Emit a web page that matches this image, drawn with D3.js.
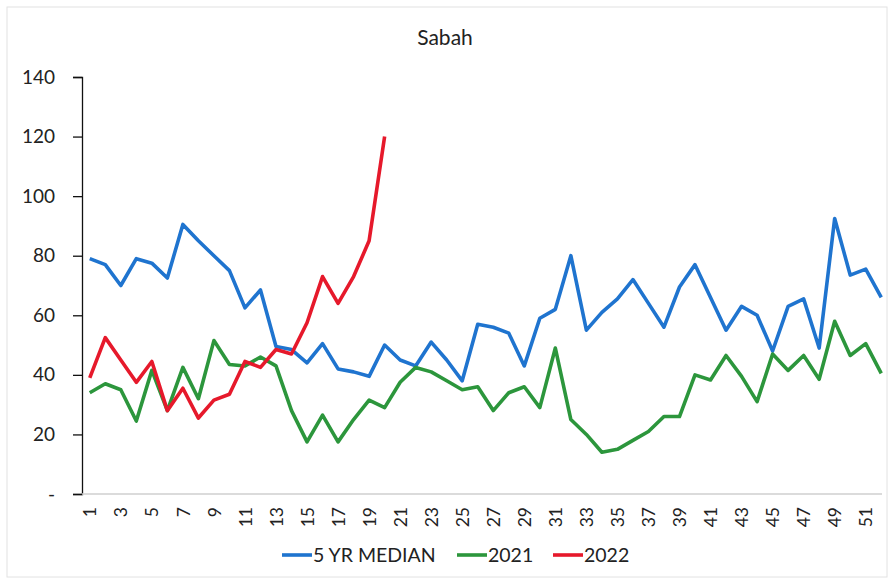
<!DOCTYPE html>
<html>
<head>
<meta charset="utf-8">
<script src="https://cdn.jsdelivr.net/npm/d3@7"></script>
<style>
  body { margin: 0; background: #fff; }
  text { font-family: Lato, "Open Sans", sans-serif; fill: #222; }
</style>
</head>
<body>
<div id="chart"></div>
<script>
const weeks = d3.range(1, 53);

const median5yr = [79, 77, 70, 79, 77.5, 72.5, 90.5, 85, 80, 75, 62.5, 68.5, 49.5, 48.5, 44,
  50.5, 42, 41, 39.5, 50, 45, 43, 51, 45, 38, 57, 56, 54, 43, 59, 62, 80, 55, 61, 65.5,
  72, 64, 56, 69.5, 77, 66, 55, 63, 60, 48, 63, 65.5, 49, 92.5, 73.5, 75.5, 66];

const y2021 = [34, 37, 35, 24.5, 41.5, 28, 42.5, 32, 51.5, 43.5, 43, 46, 43, 28, 17.5,
  26.5, 17.5, 25, 31.5, 29, 37.5, 42.5, 41, 38, 35, 36, 28, 34, 36, 29, 49, 25, 20, 14,
  15, 18, 21, 26, 26, 40, 38.3, 46.5, 39.5, 31, 47, 41.5, 46.5, 38.5, 58, 46.5, 50.5, 40.5];

const y2022 = [39, 52.5, 45, 37.5, 44.5, 28, 35.5, 25.5, 31.5, 33.5, 44.5, 42.5, 48.5, 47,
  57.5, 73, 64, 73, 85, 120];

const yTicks = [0, 20, 40, 60, 80, 100, 120, 140];

const series = [
  { name: "5 YR MEDIAN", values: median5yr, color: "#1f74cf" },
  { name: "2021", values: y2021, color: "#2c963c" },
  { name: "2022", values: y2022, color: "#e6192b" }
];

const width = 889, height = 582;

const svg = d3.select("#chart").append("svg")
  .attr("width", width)
  .attr("height", height);

// faint frame round the picture
svg.append("rect")
  .attr("x", 7).attr("y", 7)
  .attr("width", width - 9).attr("height", height - 12)
  .attr("fill", "none")
  .attr("stroke", "#e2e2e2");

const x = d3.scalePoint()
  .domain(weeks)
  .range([82, 889])
  .padding(0.5);

const y = d3.scaleLinear()
  .domain([0, 140])
  .range([494, 77]);

svg.append("text")
  .attr("x", 445).attr("y", 45)
  .attr("text-anchor", "middle")
  .attr("font-size", 21)
  .text("Sabah");

// y axis
const yAxis = svg.append("g")
  .attr("transform", "translate(82,0)")
  .call(d3.axisLeft(y).tickValues(yTicks).tickSize(9).tickPadding(18)
    .tickFormat(d => d === 0 ? "-" : d));
yAxis.select(".domain").attr("stroke", "#111").attr("stroke-width", 1.3);
yAxis.selectAll(".tick line").attr("stroke", "#111").attr("stroke-width", 1.3);
yAxis.selectAll(".tick text")
  .attr("font-size", 19)
  .attr("font-family", "Lato, 'Open Sans', sans-serif")
  .attr("fill", "#222");

// x axis
const xAxis = svg.append("g")
  .attr("transform", "translate(0,494)")
  .call(d3.axisBottom(x).tickValues(weeks.filter(d => d % 2 === 1)).tickSize(0));
xAxis.select(".domain").attr("stroke", "#cfcfcf").attr("stroke-width", 1.3)
  .attr("d", "M82,0H882");
xAxis.selectAll(".tick text")
  .attr("font-size", 17.5)
  .attr("font-family", "Lato, 'Open Sans', sans-serif")
  .attr("fill", "#222")
  .attr("transform", "rotate(-90)")
  .attr("text-anchor", "end")
  .attr("x", -13)
  .attr("y", 0)
  .attr("dy", "0.35em");

// lines
const line = d3.line()
  .x((d, i) => x(weeks[i]))
  .y(d => y(d));

svg.selectAll(".series")
  .data(series)
  .enter()
  .append("path")
  .attr("class", "series")
  .attr("d", d => line(d.values))
  .attr("fill", "none")
  .attr("stroke", d => d.color)
  .attr("stroke-width", 3.6)
  .attr("stroke-linejoin", "round");

// legend
const legendX = [282, 457, 553];
const legend = svg.selectAll(".legend")
  .data(series)
  .enter()
  .append("g")
  .attr("class", "legend")
  .attr("transform", (d, i) => `translate(${legendX[i]},555)`);

legend.append("line")
  .attr("x1", 0).attr("x2", 30)
  .attr("stroke", d => d.color)
  .attr("stroke-width", 3.6);

legend.append("text")
  .attr("x", 31)
  .attr("dy", "0.36em")
  .attr("font-size", 19.5)
  .text(d => d.name);
</script>
</body>
</html>
